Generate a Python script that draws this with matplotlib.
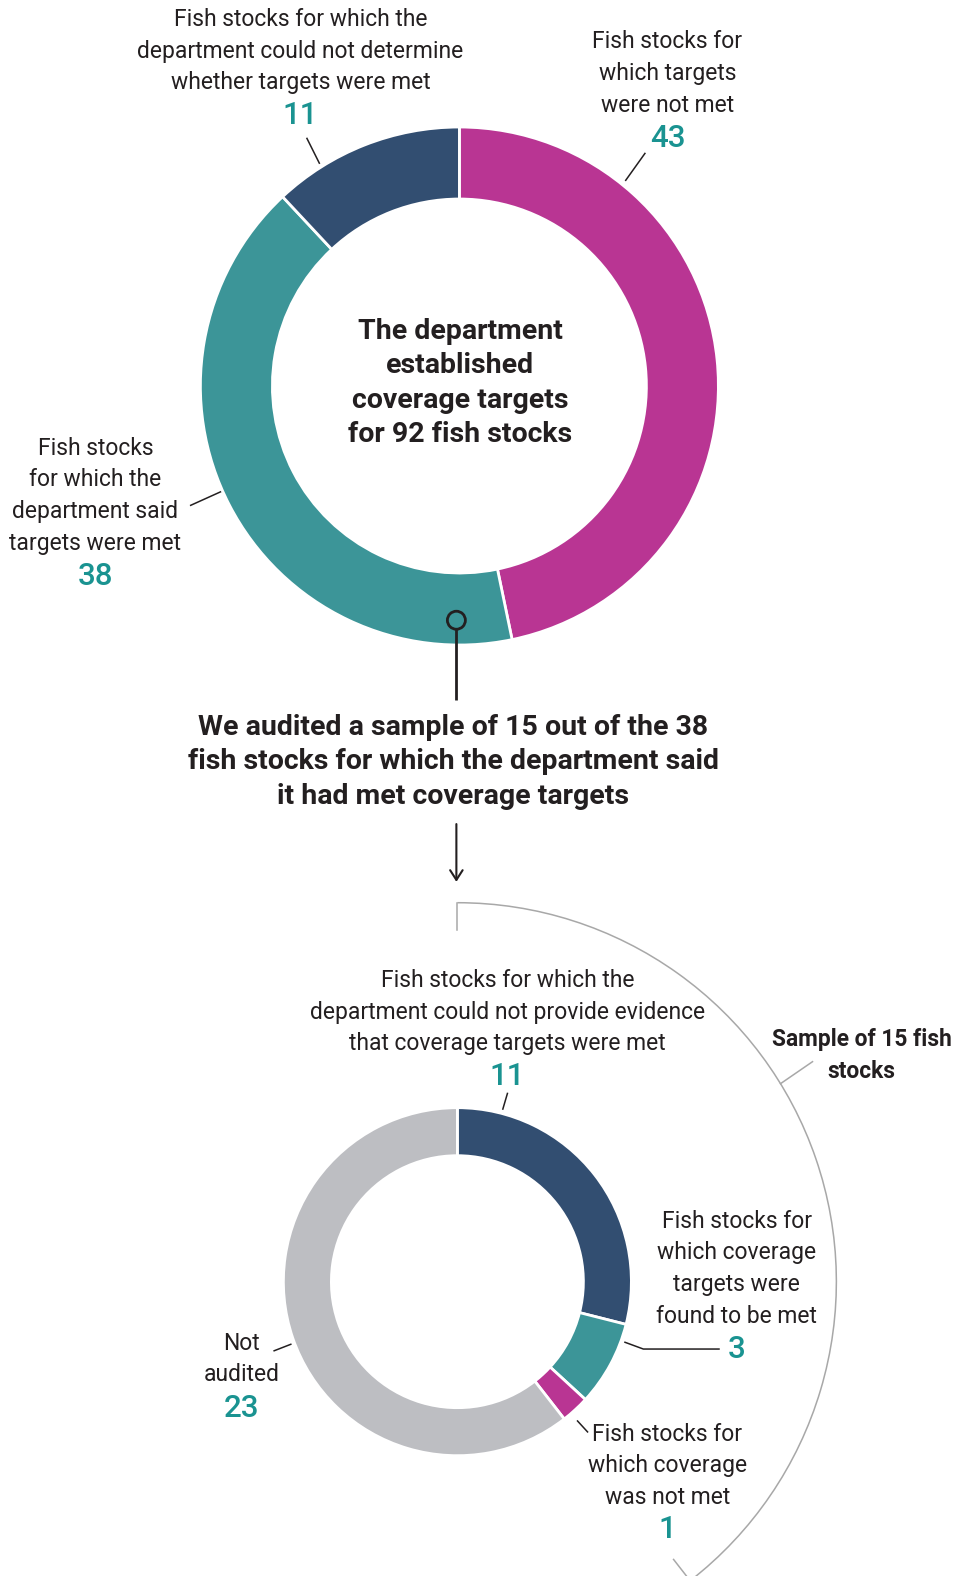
import numpy as np
import matplotlib
matplotlib.use("Agg")
import matplotlib.pyplot as plt
from matplotlib.patches import Arc, Circle

# data
top_labels = ["Fish stocks for\nwhich targets\nwere not met",
              "Fish stocks\nfor which the\ndepartment said\ntargets were met",
              "Fish stocks for which the\ndepartment could not determine\nwhether targets were met"]
top_values = [43, 38, 11]
top_total = 92

bottom_labels = ["Fish stocks for which the\ndepartment could not provide evidence\nthat coverage targets were met",
                 "Fish stocks for\nwhich coverage\ntargets were\nfound to be met",
                 "Fish stocks for\nwhich coverage\nwas not met",
                 "Not\naudited"]
bottom_values = [11, 3, 1, 23]
sample_size = 15
audited_of = 38

MAGENTA = "#B93593"
TEAL = "#3C9598"
NAVY = "#324E71"
GRAY = "#BDBEC2"
NUM = "#1A9391"
INK = "#231F20"

W, H = 958, 1576
S = W / 953.0


def P(x, y):
    # measured positions (shrunk image) -> axes coords, y upward
    return x * S, H - y * S


plt.rcParams['font.family'] = ['Roboto', 'DejaVu Sans']
fig = plt.figure(figsize=(W / 100, H / 100), dpi=100)
ax = fig.add_axes([0, 0, 1, 1])

# top donut
c1 = P(457, 384)
r1, w1 = 259, 72
ax.pie(top_values, colors=[MAGENTA, TEAL, NAVY], startangle=90, counterclock=False,
       center=c1, radius=r1, wedgeprops=dict(width=w1, edgecolor="white", linewidth=2))

# bottom donut
c2 = P(455, 1275)
r2, w2 = 174, 48
ax.pie(bottom_values, colors=[NAVY, TEAL, MAGENTA, GRAY], startangle=90, counterclock=False,
       center=c2, radius=r2, wedgeprops=dict(width=w2, edgecolor="white", linewidth=2))

ax.set_xlim(0, W)
ax.set_ylim(0, H)
ax.set_aspect("equal")
ax.axis("off")

LFS = 16.5
NFS = 22.5


def label(x, y, txt, num, ny):
    X, Y = P(x, y)
    ax.text(X, Y, txt, ha="center", va="center", fontsize=LFS, color=INK, linespacing=1.48)
    X, Y = P(x, ny)
    ax.text(X, Y, str(num), ha="center", va="center", fontsize=NFS,
            color=NUM, fontweight="medium")


def line(pts, color=INK, lw=1.1):
    xy = np.array([P(*p) for p in pts])
    ax.plot(xy[:, 0], xy[:, 1], color=color, lw=lw, solid_capstyle="butt")


# top labels
label(299, 51, top_labels[2], top_values[2], 115)
line([(305, 137), (318, 163)])
label(664, 73, top_labels[0], top_values[0], 138)
line([(642, 152), (622, 180)])
label(95, 493, top_labels[1], top_values[1], 573)
line([(189, 503), (220, 489)])

X, Y = P(458, 381)
ax.text(X, Y, "The department\nestablished\ncoverage targets\nfor %d fish stocks" % top_total,
        ha="center", va="center", fontsize=20.5, fontweight="bold", color=INK, linespacing=1.34)

# connector from teal slice
mx, my = P(454, 617)
ax.add_patch(Circle((mx, my), 9, fill=False, ec=INK, lw=2, zorder=5))
line([(454, 626), (454, 696)], lw=2)
X, Y = P(451, 758)
ax.text(X, Y, "We audited a sample of %d out of the %d\nfish stocks for which the department said\nit had met coverage targets"
        % (sample_size, audited_of), ha="center", va="center", fontsize=20.5, fontweight="bold",
        color=INK, linespacing=1.34)
a0 = P(454, 817)
a1 = P(454, 880)
ax.annotate("", xy=a1, xytext=a0,
            arrowprops=dict(arrowstyle="->,head_length=0.7,head_width=0.45", color=INK, lw=1.5))

# sample arc around bottom donut
ra = 377 * S
t_end = 90
t_start = 90 - 360 * sample_size / audited_of
ax.add_patch(Arc(c2, 2 * ra, 2 * ra, theta1=t_start, theta2=t_end, color="#A8A8A8", lw=1.1))
for t in (t_start, t_end):
    tr = np.radians(t)
    ax.plot([c2[0] + ra * np.cos(tr), c2[0] + (ra - 27) * np.cos(tr)],
            [c2[1] + ra * np.sin(tr), c2[1] + (ra - 27) * np.sin(tr)], color="#A8A8A8", lw=1.1)
tl = np.radians(31.5)
p0 = (c2[0] + ra * np.cos(tl), c2[1] + ra * np.sin(tl))
ax.plot([p0[0], p0[0] + 32], [p0[1], p0[1] + 22], color="#A8A8A8", lw=1.1)
X, Y = P(857, 1050)
ax.text(X, Y, "Sample of %d fish\nstocks" % sample_size, ha="center", va="center", fontsize=16.4,
        fontweight="bold", color=INK, linespacing=1.5)

# bottom labels
label(505, 1007, bottom_labels[0], bottom_values[0], 1071)
line([(505, 1087), (500, 1104)])
label(733, 1262, bottom_labels[1], bottom_values[1], 1342)
line([(621, 1335), (640, 1342), (716, 1342)])
label(664, 1458, bottom_labels[2], bottom_values[2], 1522)
line([(574, 1413), (585, 1425)])
label(240, 1352, bottom_labels[3], bottom_values[3], 1401)
line([(272, 1344), (290, 1337)])

fig.savefig("out.png", dpi=100)
